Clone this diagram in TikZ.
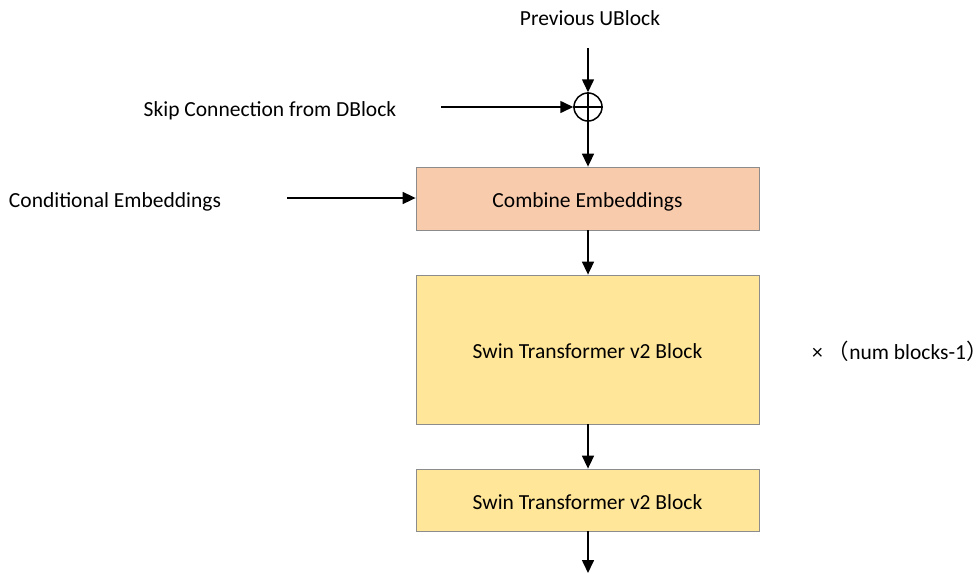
\documentclass[tikz,border=0pt]{standalone}
\usepackage{fontspec}
\setmainfont{Carlito}
\newfontfamily\cjk{Noto Sans CJK SC}
\usetikzlibrary{arrows.meta}
\definecolor{combfill}{HTML}{F8CBAD}
\definecolor{swinfill}{HTML}{FFE699}
\definecolor{boxedge}{HTML}{8C8C8C}
\tikzset{
  blockbox/.style={draw=boxedge, line width=0.8pt, minimum width=343pt, inner sep=0pt,
    text height=18pt, text depth=0pt, font=\fontsize{21.5}{24}\selectfont},
  lbl/.style={font=\fontsize{21.5}{24}\selectfont, inner sep=0pt, text height=18pt, text depth=0pt},
  flow/.style={line width=1.6pt, -{Triangle[length=13pt,width=12pt]}},
  sumnode/.style={circle, draw, line width=1.5pt, minimum size=28pt, inner sep=0pt}
}
\begin{document}
\begin{tikzpicture}[x=1pt,y=-1pt]
  \useasboundingbox (0,0) rectangle (979,573);
  % labels
  \node[lbl] (prev) at (590,16) {Previous UBlock};
  \node[lbl] (skip) at (270,107) {Skip Connection from DBlock};
  \node[lbl] (cond) at (115,198) {Conditional Embeddings};
  \node[lbl, anchor=west] (rep) at (812,350)
    {× {\cjk （}num blocks-1\makebox[0.4em][l]{\cjk ）}};
  % coordinates for free ends
  \coordinate (prevend) at (588,48);
  \coordinate (skipend) at (441,107);
  \coordinate (condend) at (287,198);
  \coordinate (outend) at (588,573);
  % blocks
  \node[blockbox, fill=combfill, minimum height=63pt] (comb) at (587.5,198.5) {Combine Embeddings};
  \node[blockbox, fill=swinfill, minimum height=149pt] (swin) at (587.5,349.5) {Swin Transformer v2 Block};
  \node[blockbox, fill=swinfill, minimum height=62pt] (swinlast) at (587.5,500) {Swin Transformer v2 Block};
  % summation
  \node[sumnode] (sum) at (588,107) {};
  \draw[line width=1.5pt] (sum.north) -- (sum.south) (sum.west) -- (sum.east);
  % connectors
  \draw[flow] (prevend) -- (sum.north);
  \draw[flow] (skipend) -- (sum.west);
  \draw[flow] (sum.south) -- (sum.south |- comb.north);
  \draw[flow] (condend) -- (comb.west |- condend);
  \draw[flow] (comb.south -| sum.south) -- (swin.north -| sum.south);
  \draw[flow] (swin.south -| sum.south) -- (swinlast.north -| sum.south);
  \draw[flow] (swinlast.south -| sum.south) -- (outend);
\end{tikzpicture}
\end{document}
